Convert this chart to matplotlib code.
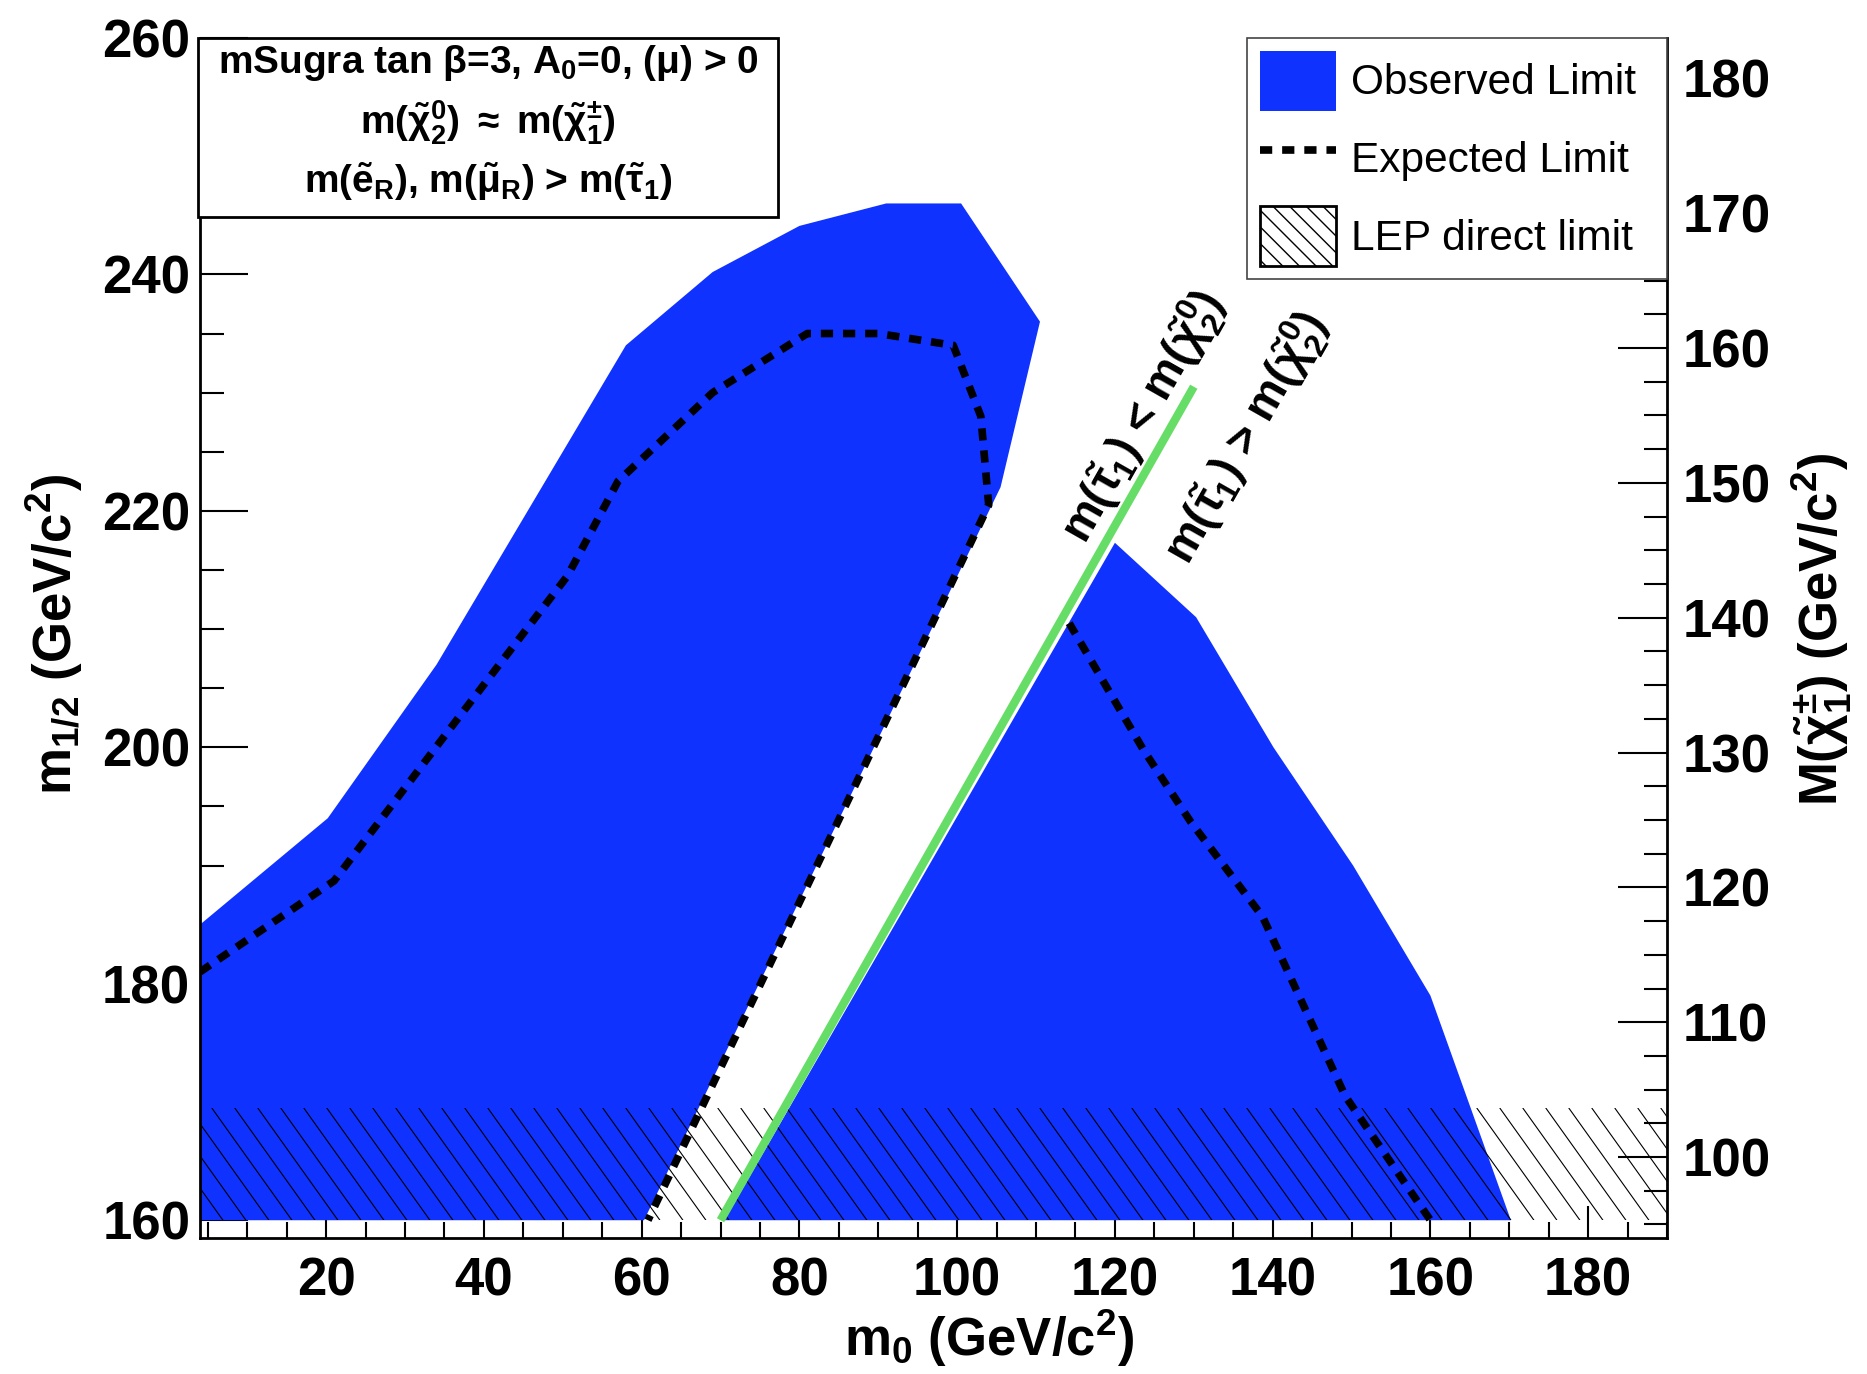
import numpy as np
import matplotlib
matplotlib.use('Agg')
import matplotlib.pyplot as plt
from matplotlib.patches import Polygon, Rectangle, Patch
from matplotlib.lines import Line2D
from matplotlib.collections import LineCollection
from matplotlib.ticker import MultipleLocator, FormatStrFormatter

# observed limit, region left of the stau line
obs1_m0 = [4, 20.2, 34, 58, 69, 80, 91, 100.5, 110.5, 105.5, 60.3, 4]
obs1_m12 = [185, 194, 207, 234, 240.2, 244.1, 246, 246, 236, 222, 160, 160]
# observed limit, region right of the stau line
obs2_m0 = [70.5, 120, 130.3, 140.1, 150.2, 160, 170.2]
obs2_m12 = [160, 217.3, 211, 200, 190, 179, 160]
# expected limit
exp1_m0 = [4, 21, 37, 50.6, 57, 69, 81, 90, 99.5, 103, 104, 60.8]
exp1_m12 = [181, 188.7, 202.7, 214.5, 222.5, 230, 235, 235, 234, 228, 220.5, 160]
exp2_m0 = [114.2, 123.6, 129.6, 138.7, 149.2, 160]
exp2_m12 = [210.5, 199.8, 193.7, 185.7, 170.5, 160]
# m(stau1) = m(chi2) line
stau_m0 = [70, 130]
stau_m12 = [160, 230.5]
# LEP direct chargino limit (in m1/2)
lep_m12 = 169.5

blue = '#1032ff'
green = '#66dd66'

plt.rcParams['font.family'] = ['Liberation Sans', 'DejaVu Sans']
plt.rcParams['font.weight'] = 'bold'
plt.rcParams['mathtext.fontset'] = 'custom'
plt.rcParams['mathtext.rm'] = 'Liberation Sans:bold'
plt.rcParams['mathtext.it'] = 'Liberation Sans:bold'
plt.rcParams['mathtext.bf'] = 'Liberation Sans:bold'
plt.rcParams['hatch.linewidth'] = 1.0

fig = plt.figure(figsize=(18.67, 13.74), dpi=100)
ax = fig.add_axes([0.1071, 0.0990, 0.7858, 0.8734])
ax.set_xlim(4, 190)
ax.set_ylim(158.5, 260)
ax.set_axisbelow(True)

ax.add_patch(Polygon(np.column_stack([obs1_m0, obs1_m12]), closed=True,
                     facecolor=blue, edgecolor='none', zorder=1))
ax.add_patch(Polygon(np.column_stack([obs2_m0, obs2_m12]), closed=True,
                     facecolor=blue, edgecolor='none', zorder=1))

# LEP hatched band, drawn as steep lines like the ROOT pattern
x0, x1 = ax.get_xlim()
band = Rectangle((x0, 160), x1 - x0, lep_m12 - 160, facecolor='none',
                 edgecolor='none', zorder=2)
ax.add_patch(band)
p0 = ax.transData.transform((0, 0))
p1 = ax.transData.transform((1, 1))
kx, ky = p1 - p0
shift = (lep_m12 - 160) * ky / 1.4 / kx
step = 23.0 / kx
starts = np.arange(x0 - shift, x1 + step, step)
segs = [[(s, lep_m12), (s + shift, 160)] for s in starts]
lc = LineCollection(segs, colors='black', linewidths=0.8, zorder=2)
ax.add_collection(lc)
lc.set_clip_path(band)

dots = (0, (1.6, 1.3))
ax.plot(exp1_m0, exp1_m12, color='black', lw=5.5, ls=dots, zorder=3)
ax.plot(exp2_m0, exp2_m12, color='black', lw=5.5, ls=dots, zorder=3)
ax.plot(stau_m0, stau_m12, color=green, lw=6, zorder=4, solid_capstyle='butt')

# labels along the stau line
q0 = ax.transData.transform((stau_m0[0], stau_m12[0]))
q1 = ax.transData.transform((stau_m0[1], stau_m12[1]))
ang = np.degrees(np.arctan2(q1[1] - q0[1], q1[0] - q0[0]))
ax.text(123.6, 227.9, r'm($\tilde{\tau}_1$) < m($\tilde{\chi}^0_2$)', rotation=ang,
        rotation_mode='anchor', ha='center', va='center', fontsize=33, zorder=5)
ax.text(136.7, 226.2, r'm($\tilde{\tau}_1$) > m($\tilde{\chi}^0_2$)', rotation=ang,
        rotation_mode='anchor', ha='center', va='center', fontsize=33, zorder=5)

# axes and ticks
ax.xaxis.set_major_locator(MultipleLocator(20))
ax.xaxis.set_minor_locator(MultipleLocator(5))
ax.yaxis.set_major_locator(MultipleLocator(20))
ax.yaxis.set_minor_locator(MultipleLocator(5))
ax.xaxis.set_major_formatter(FormatStrFormatter('%d'))
ax.yaxis.set_major_formatter(FormatStrFormatter('%d'))
ax.tick_params(axis='y', which='both', direction='in', left=True, right=False,
               labelsize=38, pad=7, width=1.5)
ax.tick_params(axis='y', which='major', length=34.5)
ax.tick_params(axis='y', which='minor', length=17)
ax.tick_params(axis='x', which='both', direction='in', bottom=True, top=False,
               labelsize=38, pad=13, width=1.5)
ax.tick_params(axis='x', which='major', length=23)
ax.tick_params(axis='x', which='minor', length=11.5)
ax.spines['top'].set_visible(False)
ax.spines['right'].set_visible(False)
for s in ['left', 'bottom']:
    ax.spines[s].set_linewidth(2)

ax2 = ax.twinx()
ax2.set_ylim(94, 183)
ax2.yaxis.set_major_locator(MultipleLocator(10))
ax2.yaxis.set_minor_locator(MultipleLocator(2.5))
ax2.yaxis.set_major_formatter(FormatStrFormatter('%d'))
ax2.tick_params(axis='y', which='both', direction='in', labelsize=38, pad=11, width=1.5)
ax2.tick_params(axis='y', which='major', length=35)
ax2.tick_params(axis='y', which='minor', length=16.5)
for s in ['top', 'left', 'bottom']:
    ax2.spines[s].set_visible(False)
ax2.spines['right'].set_linewidth(2)

fig.text(0.0289, 0.5386, r'm$_{1/2}$ (GeV/c$^2$)', rotation=90, ha='center',
         va='center', fontsize=38)
fig.text(0.976, 0.5415, r'M($\tilde{\chi}^{\pm}_1$) (GeV/c$^2$)', rotation=90,
         ha='center', va='center', fontsize=38)
fig.text(0.53, 0.013, r'm$_0$ (GeV/c$^2$)', ha='center', va='baseline', fontsize=38)

# info box
ax2.add_patch(Rectangle((-0.0014, 0.851), 0.3954, 0.149, transform=ax.transAxes,
                        facecolor='white', edgecolor='black', lw=2, zorder=8,
                        clip_on=False))
ax2.text(0.1963, 0.971, r'mSugra tan $\beta$=3, A$_0$=0, ($\mu$) > 0',
         transform=ax.transAxes, ha='center', va='baseline', fontsize=28, zorder=9)
ax2.text(0.1963, 0.920, r'm($\tilde{\chi}^0_2$) $\approx$ m($\tilde{\chi}^{\pm}_1$)',
         transform=ax.transAxes, ha='center', va='baseline', fontsize=28, zorder=9)
ax2.text(0.1963, 0.8705, r'm($\tilde{e}_R$), m($\tilde{\mu}_R$) > m($\tilde{\tau}_1$)',
         transform=ax.transAxes, ha='center', va='baseline', fontsize=28, zorder=9)

handles = [Patch(facecolor=blue, edgecolor='none', label='Observed Limit'),
           Line2D([], [], color='black', lw=5.5, ls=dots, label='Expected Limit'),
           Patch(facecolor='white', edgecolor='black', hatch='\\\\', lw=2,
                 label='LEP direct limit')]
leg = ax2.legend(handles=handles, loc='upper left',
                 bbox_to_anchor=(0.714, 0.798, 0.286, 0.202), mode='expand',
                 bbox_transform=ax.transAxes, borderaxespad=0,
                 prop={'family': 'Liberation Sans', 'weight': 'normal', 'size': 30.5},
                 handlelength=1.8, handleheight=1.8, handletextpad=0.35,
                 labelspacing=0.42, borderpad=0.3, fancybox=False,
                 edgecolor='#444444', framealpha=1)
leg.get_frame().set_linewidth(1.2)
leg.set_zorder(10)

fig.savefig('out.png', dpi=100)
